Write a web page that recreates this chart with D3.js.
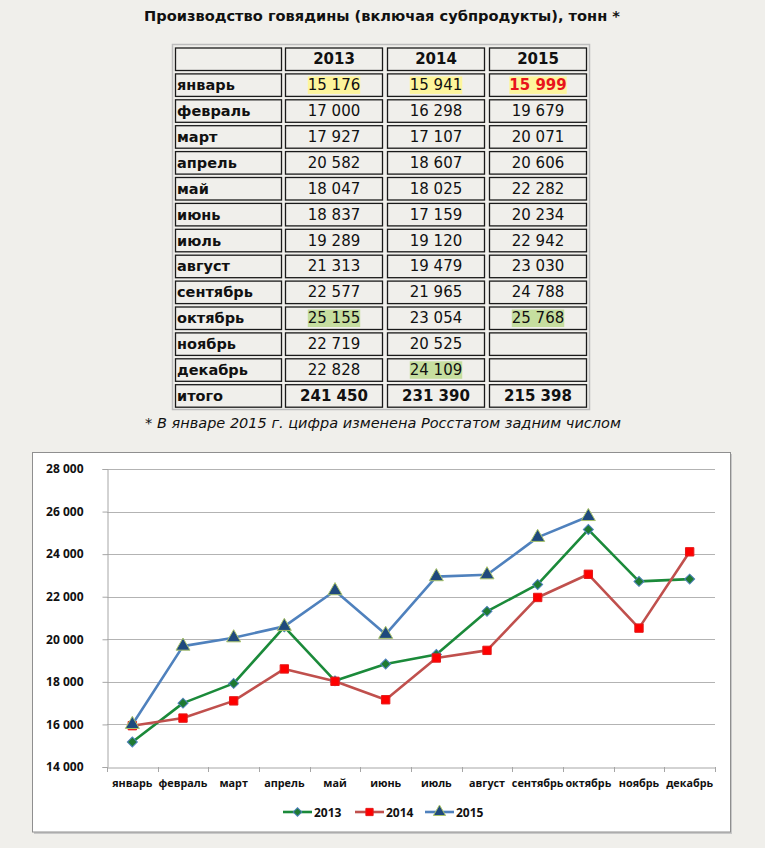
<!DOCTYPE html>
<html><head><meta charset="utf-8">
<script src="https://cdn.jsdelivr.net/npm/d3@7"></script>
<style>html,body{margin:0;padding:0;background:#f0efeb;}svg{display:block;}</style>
</head><body>
<svg id="c" width="765" height="848"></svg>
<script>
const months = ["январь","февраль","март","апрель","май","июнь","июль","август","сентябрь","октябрь","ноябрь","декабрь"];
const years = ["2013","2014","2015"];
const v2013 = [15176,17000,17927,20582,18047,18837,19289,21313,22577,25155,22719,22828];
const v2014 = [15941,16298,17107,18607,18025,17159,19120,19479,21965,23054,20525,24109];
const v2015 = [15999,19679,20071,20606,22282,20234,22942,23030,24788,25768,null,null];
const totals = [241450,231390,215398];
const yTicks = [14000,16000,18000,20000,22000,24000,26000,28000];
const title = "Производство говядины (включая субпродукты), тонн *";
const footnote = "* В январе 2015 г. цифра изменена Росстатом задним числом";
const totalLabel = "итого";
// highlighted cells: [row, col, kind]
const highlights = [[0,0,"y"],[0,1,"y"],[0,2,"r"],[9,0,"g"],[9,2,"g"],[11,1,"g"]];

const loc = d3.formatLocale({decimal:",",thousands:"\u00a0",grouping:[3],currency:["",""]});
const fmt = loc.format(",d");
const svg = d3.select("#c");
svg.append("rect").attr("width",765).attr("height",848).attr("fill","#f0efeb");

const TF = "'DejaVu Sans', Verdana, sans-serif";
svg.append("text").attr("x",382).attr("y",21).attr("text-anchor","middle")
  .attr("font-family",TF).attr("font-weight","bold").attr("font-size",14.6).attr("fill","#111").text(title);

// ---- table ----
const colX = [175,285,387,489], colW=[107,98,98,98];
const rowTop = i => 47.5 + 25.9*i, rowH = 22.5;
const series = [v2013,v2014,v2015];
const tbl = svg.append("g");
tbl.append("rect").attr("x",172.5).attr("y",44.5).attr("width",417).attr("height",365)
  .attr("fill","none").attr("stroke","#bdbdbd").attr("stroke-width",1.5);
const rows = [null, ...months.map((m,i)=>({label:m, vals:series.map(s=>s[i]), idx:i})), {label:totalLabel, vals:totals, total:true}];
rows.forEach((r,ri)=>{
  const y = rowTop(ri);
  colX.forEach((x,ci)=>{
    tbl.append("rect").attr("x",x+0.5).attr("y",y+0.5).attr("width",colW[ci]-1).attr("height",rowH)
      .attr("fill","none").attr("stroke","#1a1a1a").attr("stroke-width",1.3);
  });
  const cy = y + rowH/2 + 5.5;
  if(ri===0){
    years.forEach((yr,ci)=>{
      tbl.append("text").attr("x",colX[ci+1]+colW[ci+1]/2).attr("y",cy).attr("text-anchor","middle")
        .attr("font-family",TF).attr("font-weight","bold").attr("font-size",15).attr("fill","#111").text(yr);
    });
    return;
  }
  tbl.append("text").attr("x",colX[0]+2).attr("y",cy).attr("font-family",TF).attr("font-weight","bold")
    .attr("font-size",14.5).attr("fill","#111").text(r.label);
  r.vals.forEach((v,ci)=>{
    if(v==null) return;
    const h = r.total ? null : highlights.find(h=>h[0]===r.idx && h[1]===ci);
    const cx = colX[ci+1]+colW[ci+1]/2;
    const t = tbl.append("text").attr("x",cx).attr("y",cy).attr("text-anchor","middle")
      .attr("font-family",TF).attr("font-size",15)
      .attr("font-weight", (r.total || (h && h[2]==="r")) ? "bold" : "normal")
      .attr("fill", (h && h[2]==="r") ? "#e8141c" : "#111").text(fmt(v));
    if(h){
      const bb = t.node().getBBox();
      tbl.insert("rect", () => t.node()).attr("x",bb.x).attr("y",y+3).attr("width",bb.width).attr("height",rowH-5)
        .attr("fill", h[2]==="g" ? "#c6de9f" : "#fdf59c");
    }
  });
});
svg.append("text").attr("x",383).attr("y",428).attr("text-anchor","middle")
  .attr("font-family",TF).attr("font-style","italic").attr("font-size",14.5).attr("fill","#111").text(footnote);

// ---- chart ----
svg.append("rect").attr("x",34).attr("y",454).attr("width",698).attr("height",380).attr("fill","#c8c8c8");
svg.append("rect").attr("x",32.5).attr("y",452.5).attr("width",698).attr("height",379.5)
  .attr("fill","#fff").attr("stroke","#8f8f8f").attr("stroke-width",1);

const CF = "'Open Sans', sans-serif";
const x = d3.scaleBand().domain(months).range([107,715]).padding(0);
const y = d3.scaleLinear().domain([14000,28000]).range([767,469]);
const g = svg.append("g");
// gridlines
g.selectAll("line.grid").data(yTicks.slice(1)).join("line")
  .attr("x1",107).attr("x2",715).attr("y1",d=>Math.round(y(d))+0.5).attr("y2",d=>Math.round(y(d))+0.5)
  .attr("stroke","#b3b3b3").attr("stroke-width",1);
// y axis
const ya = g.append("g").attr("transform","translate(107.5,0)")
  .call(d3.axisLeft(y).tickValues(yTicks).tickSize(5).tickPadding(19).tickFormat(fmt));
ya.select(".domain").attr("stroke","#a6a6a6");
ya.selectAll(".tick line").attr("stroke","#a6a6a6");
ya.selectAll("text").attr("font-family",CF).attr("font-weight","bold").attr("font-size",12).attr("fill","#111");
// x axis
const xa = g.append("g").attr("transform",`translate(0,${Math.round(y(14000))+0.5})`)
  .call(d3.axisBottom(x).tickSize(0).tickPadding(12));
xa.select(".domain").attr("stroke","#a6a6a6");
xa.selectAll("text").attr("font-family",CF).attr("font-weight","bold").attr("font-size",10.8).attr("fill","#111");
const bounds = months.map(m=>x(m)).concat([x(months[11])+x.bandwidth()]);
g.selectAll("line.xt").data(bounds).join("line")
  .attr("x1",d=>Math.round(d)+0.5).attr("x2",d=>Math.round(d)+0.5)
  .attr("y1",y(14000)).attr("y2",y(14000)+5).attr("stroke","#a6a6a6");

const cx = m => x(m)+x.bandwidth()/2;
const defs = [
  {name:"2013", vals:v2013, color:"#1b8a3a", marker:"diamond", mfill:"#1e7a32", mstroke:"#4f81bd"},
  {name:"2014", vals:v2014, color:"#c0504d", marker:"square", mfill:"#ff0000", mstroke:"#e41a1a"},
  {name:"2015", vals:v2015, color:"#4f81bd", marker:"triangle", mfill:"#1f497d", mstroke:"#a9c36a"}
];
const symType = {diamond:d3.symbolSquare, square:d3.symbolSquare, triangle:d3.symbolTriangle};
const symSize = {diamond:50, square:70, triangle:85};
const symRot = {diamond:45, square:0, triangle:0};
const line = d3.line().defined(d=>d.v!=null).x(d=>cx(d.m)).y(d=>y(d.v));
defs.forEach(s=>{
  const pts = months.map((m,i)=>({m, v:s.vals[i]}));
  g.append("path").datum(pts).attr("d",line).attr("fill","none").attr("stroke",s.color)
    .attr("stroke-width",2.6).attr("stroke-linejoin","round");
});
defs.forEach(s=>{
  const pts = months.map((m,i)=>({m, v:s.vals[i]})).filter(d=>d.v!=null);
  g.selectAll(null).data(pts).join("path")
    .attr("transform",d=>`translate(${cx(d.m)},${y(d.v)}) rotate(${symRot[s.marker]})`)
    .attr("d",d3.symbol().type(symType[s.marker]).size(symSize[s.marker]))
    .attr("fill",s.mfill).attr("stroke",s.mstroke).attr("stroke-width",1);
});
// legend
const legX = [283,355,425], legY = 812;
defs.forEach((s,i)=>{
  const lg = g.append("g").attr("transform",`translate(${legX[i]},${legY})`);
  lg.append("line").attr("x1",0).attr("x2",29).attr("stroke",s.color).attr("stroke-width",2.6);
  lg.append("path").attr("transform",`translate(14.5,0) rotate(${symRot[s.marker]})`)
    .attr("d",d3.symbol().type(symType[s.marker]).size(symSize[s.marker]*0.75))
    .attr("fill",s.mfill).attr("stroke",s.mstroke).attr("stroke-width",1);
  lg.append("text").attr("x",31).attr("y",4.5).attr("font-family",CF).attr("font-weight","bold")
    .attr("font-size",12).attr("fill","#111").text(s.name);
});
</script>
</body></html>
